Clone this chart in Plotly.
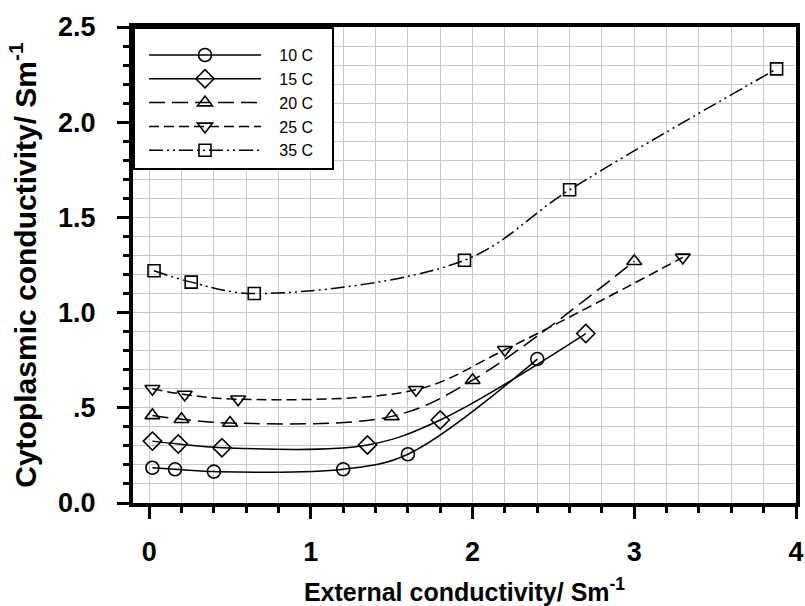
import plotly.graph_objects as go

# ---- data ----
series_names = ["10 C", "15 C", "20 C", "25 C", "35 C"]

x_10 = [0.02, 0.16, 0.40, 1.20, 1.60, 2.40]
y_10 = [0.185, 0.177, 0.165, 0.177, 0.256, 0.756]

x_15 = [0.02, 0.18, 0.45, 1.35, 1.80, 2.70]
y_15 = [0.325, 0.310, 0.290, 0.305, 0.436, 0.890]

x_20 = [0.02, 0.20, 0.50, 1.50, 2.00, 3.00]
y_20 = [0.460, 0.440, 0.420, 0.455, 0.645, 1.270]

x_25 = [0.02, 0.22, 0.55, 1.65, 2.20, 3.30]
y_25 = [0.600, 0.570, 0.545, 0.595, 0.805, 1.290]

x_35 = [0.03, 0.26, 0.65, 1.95, 2.60, 3.88]
y_35 = [1.220, 1.160, 1.100, 1.275, 1.645, 2.280]

y_tickvals = [0, 0.5, 1.0, 1.5, 2.0, 2.5]
y_ticktext = ["0.0", ".5", "1.0", "1.5", "2.0", "2.5"]
x_tickvals = [0, 1, 2, 3, 4]
x_ticktext = ["0", "1", "2", "3", "4"]

# ---- styles ----
FONT = "Arial, Liberation Sans, sans-serif"
NB = "\u00a0\u00a0\u00a0"
NB_END = "\u00a0\u00a0\u00a0"
styles = [
    dict(symbol="circle-open", size=13, dash="solid"),
    dict(symbol="diamond-open", size=14, dash="solid"),
    dict(symbol="triangle-up-open", size=13, dash="16px,7px"),
    dict(symbol="triangle-down-open", size=13, dash="10px,5px"),
    dict(symbol="square-open", size=12, dash="14px,4px,2px,4px,2px,4px"),
]
xs = [x_10, x_15, x_20, x_25, x_35]
ys = [y_10, y_15, y_20, y_25, y_35]

fig = go.Figure()
for name, xv, yv, st in zip(series_names, xs, ys, styles):
    fig.add_trace(go.Scatter(
        x=xv, y=yv, name=NB + name + NB_END, mode="lines+markers",
        line=dict(color="black", width=1.5, dash=st["dash"], shape="spline", smoothing=1.0),
        marker=dict(symbol=st["symbol"], size=st["size"], color="black",
                    line=dict(color="black", width=1.6)),
    ))

axis_common = dict(
    showline=True, linewidth=4, linecolor="black", mirror=True,
    ticks="outside", ticklen=12, tickwidth=3, tickcolor="black",
    showgrid=True, gridcolor="#c8c8c8", gridwidth=1,
    zeroline=False, automargin=False,
    tickfont=dict(family=FONT, size=27, color="black", weight="bold"),
)

fig.update_xaxes(
    range=[-0.1, 4.0], tickmode="array", tickvals=x_tickvals, ticktext=x_ticktext,
    minor=dict(tickmode="linear", tick0=0, dtick=0.2, ticks="outside", ticklen=6,
               tickwidth=3, tickcolor="black", showgrid=True, gridcolor="#c8c8c8", gridwidth=1),
    title=dict(text="External conductivity/ Sm<sup>-1</sup>",
               font=dict(family=FONT, size=25, color="black", weight="bold"), standoff=18),
    ticklabelstandoff=10,
    **axis_common,
)
fig.update_yaxes(
    range=[0, 2.5], tickmode="array", tickvals=y_tickvals, ticktext=y_ticktext,
    minor=dict(tickmode="linear", tick0=0, dtick=0.1, ticks="outside", ticklen=6,
               tickwidth=3, tickcolor="black", showgrid=True, gridcolor="#c8c8c8", gridwidth=1),
    title=dict(text="Cytoplasmic conductivity/ Sm<sup>-1</sup>",
               font=dict(family=FONT, size=30, color="black", weight="bold"), standoff=14),
    ticklabelstandoff=16,
    **axis_common,
)

fig.update_layout(
    width=805, height=606,
    margin=dict(l=133, r=9, t=27, b=103),
    paper_bgcolor="white", plot_bgcolor="white",
    showlegend=True,
    legend=dict(
        x=0, y=1, xanchor="left", yanchor="top",
        bgcolor="white", bordercolor="black", borderwidth=2,
        font=dict(family=FONT, size=16, color="black"),
        itemwidth=112, indentation=9,
        title=dict(text="\u00a0", font=dict(size=7)),
    ),
)

fig.write_html("out.html", config={"displayModeBar": False},
               post_script="document.body.style.margin='0';")
